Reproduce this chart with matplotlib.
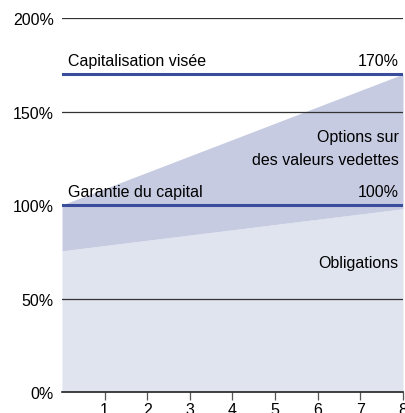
import matplotlib.pyplot as plt

plt.rcParams['font.family'] = ['Liberation Sans', 'DejaVu Sans']

# annees et niveaux (% du capital)
annees = [0, 8]
obligations = [75.5, 98]
options_haut = [100, 170]
garantie = 100
visee = 170
yticks = [0, 50, 100, 150, 200]
ylabels = ['0%', '50%', '100%', '150%', '200%']
xticks = [1, 2, 3, 4, 5, 6, 7, 8]

bleu = '#3a4d9c'
fig = plt.figure(figsize=(4.06, 4.14), dpi=100)
ax = fig.add_axes([0.1527, 0.0507, 0.8399, 0.9034])

ax.fill_between(annees, 0, obligations, color='#e0e4ef', lw=0, zorder=1)
ax.fill_between(annees, obligations, options_haut, color='#c6cbe1', lw=0, zorder=1)

for y in yticks[1:]:
    ax.axhline(y, color='#333333', lw=0.9, zorder=2)
ax.axhline(garantie, color=bleu, lw=2.2, zorder=3)
ax.axhline(visee, color=bleu, lw=2.2, zorder=3)

fs = 11.5
ax.text(0.15, visee + 3, 'Capitalisation visée', fontsize=fs, va='bottom')
ax.text(7.9, visee + 3, '170%', fontsize=fs, va='bottom', ha='right')
ax.text(0.15, garantie + 3, 'Garantie du capital', fontsize=fs, va='bottom')
ax.text(7.9, garantie + 3, '100%', fontsize=fs, va='bottom', ha='right')
ax.text(7.9, 130.5, 'Options sur\ndes valeurs vedettes', fontsize=fs, va='center',
        ha='right', multialignment='right', linespacing=1.6)
ax.text(7.9, 69, 'Obligations', fontsize=fs, va='center', ha='right')

ax.set_xlim(0, 8)
ax.set_ylim(0, 200)
ax.set_yticks(yticks)
ax.set_yticklabels(ylabels, fontsize=fs)
ax.set_xticks(xticks)
ax.set_xticklabels([str(x) for x in xticks], fontsize=fs)
ax.tick_params(axis='y', length=0, pad=6)
ax.tick_params(axis='x', length=6, width=0.9, color='#555555', pad=1)
for s in ['top', 'right', 'left']:
    ax.spines[s].set_visible(False)
ax.spines['bottom'].set_color('#222222')
ax.spines['bottom'].set_linewidth(1.2)
ax.spines['bottom'].set_zorder(4)

fig.savefig('out.png', dpi=100)
